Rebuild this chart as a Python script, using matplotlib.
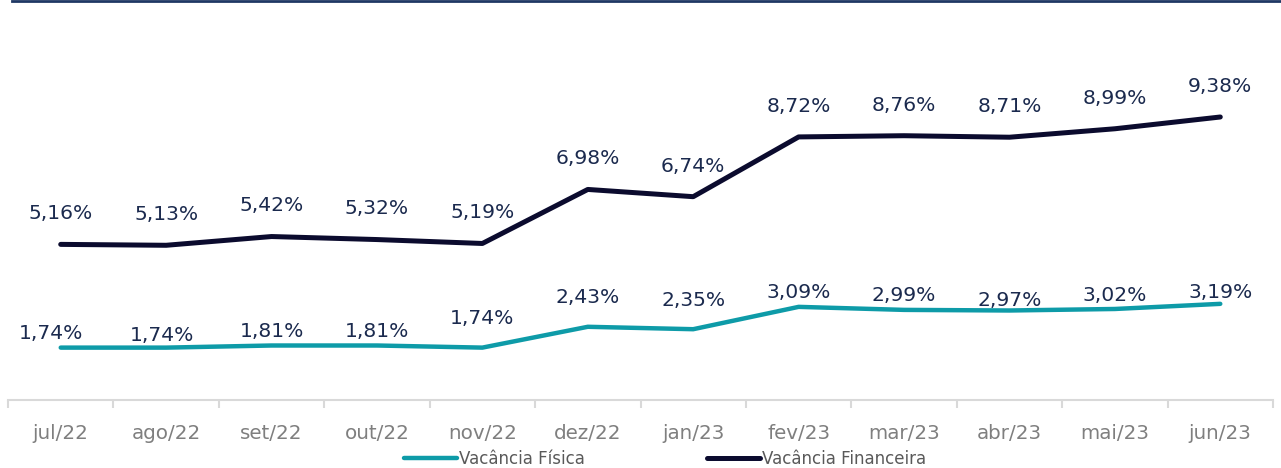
import matplotlib.pyplot as plt
from matplotlib.lines import Line2D

months = ["jul/22", "ago/22", "set/22", "out/22", "nov/22", "dez/22",
          "jan/23", "fev/23", "mar/23", "abr/23", "mai/23", "jun/23"]
vac_fisica = [1.74, 1.74, 1.81, 1.81, 1.74, 2.43, 2.35, 3.09, 2.99, 2.97, 3.02, 3.19]
vac_financeira = [5.16, 5.13, 5.42, 5.32, 5.19, 6.98, 6.74, 8.72, 8.76, 8.71, 8.99, 9.38]

# label offsets in points (excel moved some of them)
fis_dy = [10, 9, 10, 10, 21, 21, 21, 10, 10, 7, 10, 8]
fis_dx = [-7, -3, 0, 0, 0, 0, 0, 0, 0, 0, 0, 0]
fin_dy = 22

teal = "#0E9BA8"
navy = "#0B0B2E"
label_col = "#1B2A4E"

fig = plt.figure(figsize=(12.81, 4.68), dpi=100)
ax = fig.add_axes([0.00625, 0.145, 0.9875, 0.774])

x = list(range(len(months)))
ax.plot(x, vac_fisica, color=teal, lw=3.2, solid_capstyle="round", label="Vacância Física")
ax.plot(x, vac_financeira, color=navy, lw=3.6, solid_capstyle="round", label="Vacância Financeira")

for i, v in enumerate(vac_fisica):
    ax.annotate(f"{v:.2f}%".replace(".", ","), (i, v), xytext=(fis_dx[i], fis_dy[i]),
                textcoords="offset points", ha="center", va="center",
                fontsize=14.6, color=label_col)
for i, v in enumerate(vac_financeira):
    ax.annotate(f"{v:.2f}%".replace(".", ","), (i, v), xytext=(0, fin_dy),
                textcoords="offset points", ha="center", va="center",
                fontsize=14.6, color=label_col)

ax.set_xlim(-0.5, len(months) - 0.5)
ax.set_ylim(0, 12)
ax.set_yticks([])
ax.set_xticks(x)
ax.set_xticklabels(months, fontsize=14.3, color="#7F7F7F")
ax.tick_params(axis="x", which="major", length=0, pad=17)
ax.set_xticks([i - 0.5 for i in range(len(months) + 1)], minor=True)
ax.tick_params(axis="x", which="minor", length=6, width=1.5, color="#D9D9D9", direction="out")
for s in ["top", "right", "left"]:
    ax.spines[s].set_visible(False)
ax.spines["bottom"].set_color("#D9D9D9")
ax.spines["bottom"].set_linewidth(1.5)

fig.legend(loc="center", bbox_to_anchor=(0.519, 0.019), ncol=2, frameon=False,
           fontsize=12, handlelength=3.2, handletextpad=0.1, columnspacing=7.3,
           labelcolor="#595959")

# dark rule along the top of the page
fig.add_artist(Line2D([0.009, 1.0], [0.997, 0.997], transform=fig.transFigure,
                      color="#1F3864", lw=2))

fig.savefig("out.png", dpi=100)
